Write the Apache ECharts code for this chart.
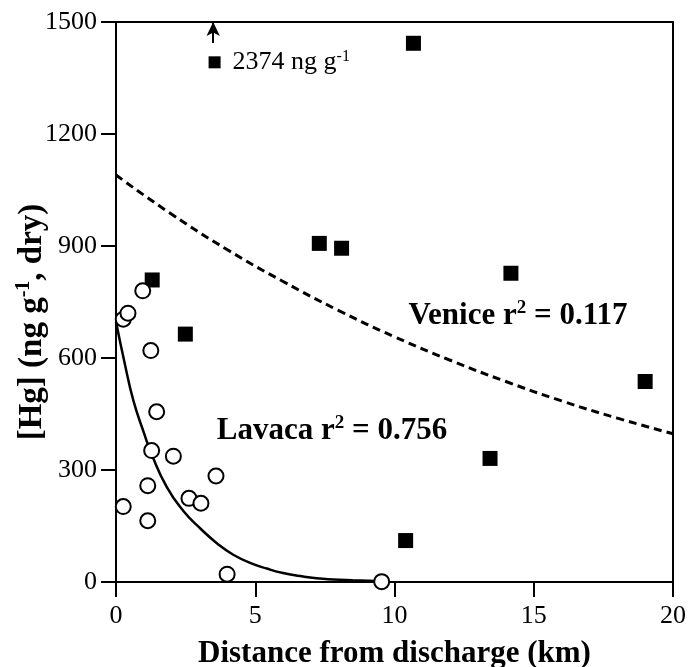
<!DOCTYPE html>
<html>
<head>
<meta charset="utf-8">
<script src="https://cdn.jsdelivr.net/npm/echarts@6/dist/echarts.min.js"></script>
<style>
html,body{margin:0;padding:0;background:#fff;}
#c{width:700px;height:667px;}
</style>
</head>
<body>
<div id="c"></div>
<script>
// Lavaca (open circles)
var lavacaX = [0.26, 0.26, 0.43, 0.96, 1.25, 1.46, 1.28, 2.06, 1.14, 1.14, 2.62, 3.05, 3.59, 3.99, 9.54];
var lavacaY = [202, 704, 720, 780, 620, 456, 352, 337, 258, 164, 224, 211, 284, 21, 1];
// Venice (filled squares); the point at 3.54 is plotted off-scale (actual 2374 ng/g)
var veniceX = [3.54, 10.68, 7.30, 8.10, 1.30, 2.49, 14.18, 19.0, 13.43, 10.40];
var veniceY = [1392, 1443, 907, 894, 809, 664, 827, 537, 331, 111];
var offScaleIndex = 0;
var offScaleLabel = '2374 ng g';
// Fitted curves
var lavacaFitX = [0, 0.3, 0.62, 1.0, 1.28, 1.82, 2.42, 3.02, 3.62, 4.21, 4.93, 5.41, 6.0, 6.61, 7.2, 7.8, 8.5, 9.36];
var lavacaFitY = [697, 590, 487, 400, 342, 255, 190, 144, 104, 73, 48, 36, 24, 16, 10, 7, 5, 3];
var veniceFitX = [0, 2, 4, 6, 8, 10, 12, 14, 16, 18, 20];
var veniceFitY = [1090, 985, 890, 805, 727, 657, 594, 537, 485, 439, 397];
// Axis ticks
var xTicks = [0, 5, 10, 15, 20];
var yTicks = [0, 300, 600, 900, 1200, 1500];
var yTitle = '[Hg] (ng g';
var xTitle = 'Distance from discharge (km)';

var FONT = '"Liberation Serif", "Times New Roman", serif';

function pairs(xs, ys){ return xs.map(function(x,i){ return [x, ys[i]]; }); }

var venData = pairs(veniceX, veniceY).map(function(p, i){
  if (i === offScaleIndex) {
    return {
      value: p, symbolSize: 12,
      label: {
        show: true, position: 'right', distance: 12,
        formatter: '{t|' + offScaleLabel + '}{s|-1}',
        rich: {
          t: {fontFamily: FONT, fontSize: 26, color: '#000', lineHeight: 28},
          s: {fontFamily: FONT, fontSize: 16, color: '#000', verticalAlign: 'top', lineHeight: 16, padding:[0,0,10,0]}
        }
      }
    };
  }
  return p;
});

var supRich = function(size){
  return {
    t: {fontFamily: FONT, fontSize: size, fontWeight: 'bold', fill: '#000', lineHeight: size + 3},
    s: {fontFamily: FONT, fontSize: Math.round(size*0.6), fontWeight: 'bold', fill: '#000', verticalAlign: 'top', lineHeight: Math.round(size*0.6), padding:[0,0,12,0]}
  };
};

var chart = echarts.init(document.getElementById('c'));
chart.setOption({
  animation: false,
  backgroundColor: '#fff',
  grid: {left: 116, top: 22, right: 27, bottom: 85, show: true, borderColor: '#000', borderWidth: 2,
         backgroundColor: 'transparent', containLabel: false, outerBoundsMode: 'none'},
  xAxis: {
    type: 'value', min: 0, max: 20, interval: 5,
    axisLine: {show: true, onZero: false, lineStyle: {color: '#000', width: 2}},
    axisTick: {show: true, inside: false, length: 15, lineStyle: {color: '#000', width: 2}},
    axisLabel: {fontFamily: FONT, fontSize: 26, color: '#000', margin: 21,
      formatter: function(v){ return xTicks.indexOf(v) >= 0 ? String(v) : ''; }},
    splitLine: {show: false},
    name: xTitle, nameLocation: 'middle', nameGap: 56,
    nameTextStyle: {fontFamily: FONT, fontSize: 31, fontWeight: 'bold', color: '#000'}
  },
  yAxis: {
    type: 'value', min: 0, max: 1500, interval: 300,
    axisLine: {show: true, onZero: false, lineStyle: {color: '#000', width: 2}},
    axisTick: {show: true, inside: false, length: 15, lineStyle: {color: '#000', width: 2}},
    axisLabel: {fontFamily: FONT, fontSize: 26, color: '#000', margin: 19,
      formatter: function(v){ return yTicks.indexOf(v) >= 0 ? String(v) : ''; }},
    splitLine: {show: false}
  },
  graphic: [
    {type: 'text', x: 32, y: 322, rotation: Math.PI/2, z: 100,
     style: {text: '{t|' + yTitle + '}{s|-1}{t|, dry)}', textAlign: 'center', textVerticalAlign: 'middle',
       rich: supRich(33)}},
    {type: 'text', x: 518, y: 316, z: 100,
     style: {text: '{t|Venice r}{s|2}{t| = 0.117}', textAlign: 'center', textVerticalAlign: 'middle',
       rich: supRich(31)}},
    {type: 'text', x: 332, y: 431, z: 100,
     style: {text: '{t|Lavaca r}{s|2}{t| = 0.756}', textAlign: 'center', textVerticalAlign: 'middle',
       rich: supRich(31)}}
  ],
  series: [
    {type: 'line', data: pairs(veniceFitX, veniceFitY), smooth: true, showSymbol: false, symbol: 'none',
     lineStyle: {color: '#000', width: 3, type: [8, 5]}, z: 2, silent: true},
    {type: 'line', data: pairs(lavacaFitX, lavacaFitY), smooth: true, showSymbol: false, symbol: 'none',
     lineStyle: {color: '#000', width: 2.5}, z: 2, silent: true},
    {type: 'scatter', data: venData, symbol: 'rect', symbolSize: 15,
     itemStyle: {color: '#000', opacity: 1}, z: 4,
     markLine: {silent: true, symbol: ['none', 'arrow'], symbolSize: [10, 14], label: {show: false},
       lineStyle: {color: '#000', width: 2, type: 'solid', opacity: 1},
       data: [[{coord: [3.49, 1444]}, {coord: [3.49, 1500]}]]}},
    {type: 'scatter', data: pairs(lavacaX, lavacaY), symbol: 'circle', symbolSize: 15,
     itemStyle: {color: '#fff', borderColor: '#000', borderWidth: 2, opacity: 1}, z: 5}
  ]
});
</script>
</body>
</html>
